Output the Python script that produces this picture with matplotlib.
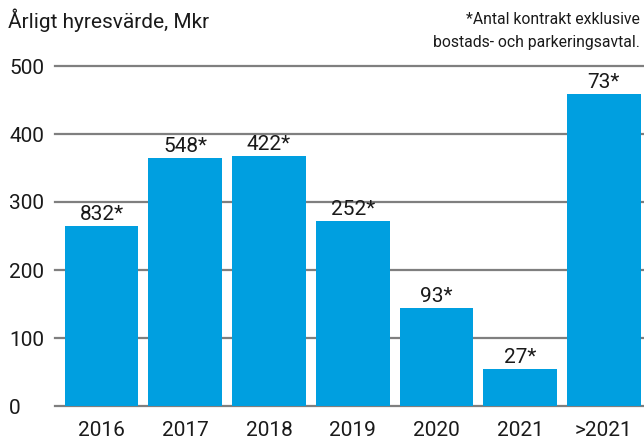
import matplotlib
matplotlib.use('Agg')
import matplotlib.pyplot as plt

plt.rcParams['font.family'] = ['Roboto', 'DejaVu Sans']

years = ['2016', '2017', '2018', '2019', '2020', '2021', '>2021']
values = [265, 365, 367, 272, 144, 54, 459]
labels = ['832*', '548*', '422*', '252*', '93*', '27*', '73*']
yticks = [0, 100, 200, 300, 400, 500]

bar_color = '#009FE0'
grid_color = '#7f7f7f'
text_color = '#1a1a1a'

fig = plt.figure(figsize=(6.44, 4.41), dpi=100)
ax = fig.add_axes([55/644, 1-406/441, 1-55/644, (406-66)/441])

x = range(len(years))
ax.bar(x, values, width=0.88, color=bar_color, zorder=3)
for t in yticks:
    ax.axhline(t, color=grid_color, lw=1.6, zorder=1, clip_on=False)

for i, (v, l) in enumerate(zip(values, labels)):
    ax.text(i, v + 3, l, ha='center', va='bottom', fontsize=15, color=text_color)

ax.set_xlim(-0.556, 6.48)
ax.set_ylim(0, 500)
ax.set_yticks(yticks)
ax.set_yticklabels([str(t) for t in yticks], ha='left')
ax.set_xticks(list(x))
ax.set_xticklabels(years)
ax.tick_params(axis='y', length=0, pad=33, labelsize=15, labelcolor=text_color)
ax.tick_params(axis='x', length=0, pad=11, labelsize=15, labelcolor=text_color)
for s in ax.spines.values():
    s.set_visible(False)

fig.text(8/644, 1-20/441, 'Årligt hyresvärde, Mkr', ha='left', va='center',
         fontsize=15, color=text_color)
fig.text(640/644, 1-19/441, '*Antal kontrakt exklusive', ha='right', va='center',
         fontsize=11.3, color=text_color)
fig.text(640/644, 1-43/441, 'bostads- och parkeringsavtal.', ha='right', va='center',
         fontsize=11.3, color=text_color)

fig.savefig('out.png', dpi=100)
